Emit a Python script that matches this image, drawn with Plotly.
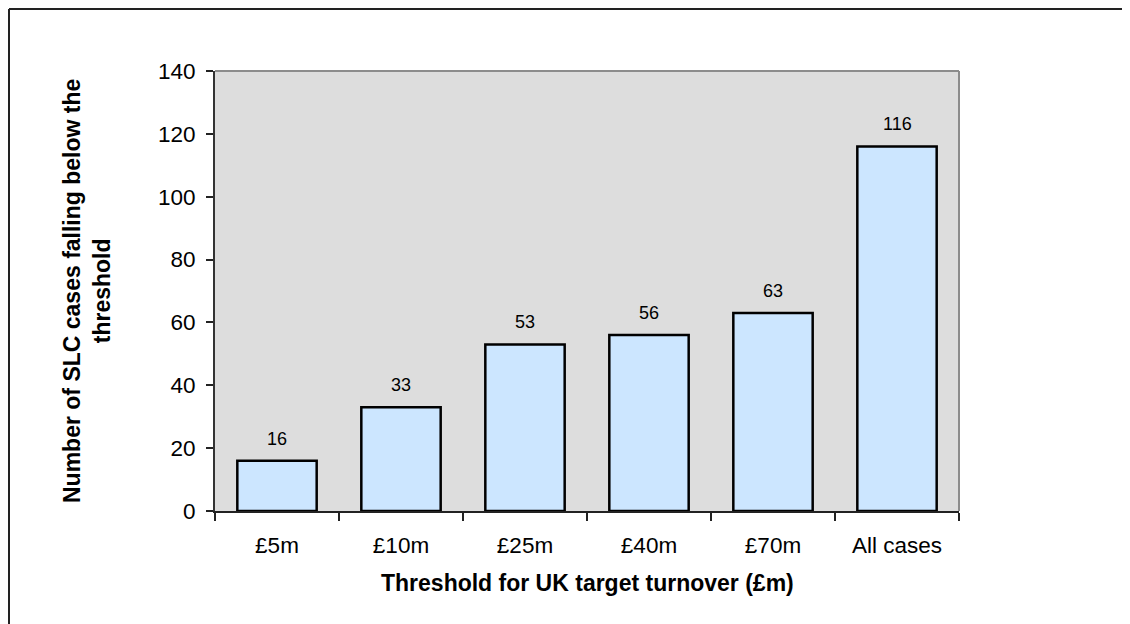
import plotly.graph_objects as go

categories = ["£5m", "£10m", "£25m", "£40m", "£70m", "All cases"]
values = [16, 33, 53, 56, 63, 116]
y_ticks = [0, 20, 40, 60, 80, 100, 120, 140]

# page body has an 8px margin; work in figure pixels = screen pixels - 8
OFF = 8
W, H = 1130, 624
L, R, T, B = 215 - OFF, 959 - OFF, 71 - OFF, 511 - OFF
pw, ph = R - L, B - T

def px_x(x):
    return (x - OFF - L) / pw

def px_y(y):
    return (B - (y - OFF)) / ph

FONT = "Liberation Sans, Arial"

fig = go.Figure()
fig.add_trace(go.Bar(
    x=categories, y=values,
    marker=dict(color="#cce6ff", line=dict(color="#000000", width=2.5)),
    hoverinfo="x+y",
))

annotations = []
for c, v in zip(categories, values):
    annotations.append(dict(
        x=c, y=v, xref="x", yref="y", text=str(v), showarrow=False,
        yanchor="bottom", yshift=10,
        font=dict(family=FONT, size=18, color="#000000"),
    ))
annotations.append(dict(
    x=px_x(87), y=0.5, xref="paper", yref="paper",
    text="<b>Number of SLC cases falling below the<br>threshold</b>",
    textangle=-90, showarrow=False, xanchor="center", yanchor="middle",
    font=dict(family=FONT, size=23, color="#000000"),
))
annotations.append(dict(
    x=0.5, y=px_y(583), xref="paper", yref="paper",
    text="<b>Threshold for UK target turnover (£m)</b>",
    showarrow=False, xanchor="center", yanchor="middle",
    font=dict(family=FONT, size=23, color="#000000"),
))

shapes = [
    # top and right plot-area borders (gray)
    dict(type="line", xref="paper", yref="paper", x0=0, x1=1, y0=1, y1=1,
         line=dict(color="#8c8c8c", width=2), layer="above"),
    dict(type="line", xref="paper", yref="paper", x0=1, x1=1, y0=0, y1=1,
         line=dict(color="#8c8c8c", width=2), layer="above"),
    # outer chart frame (left and top visible)
    dict(type="line", xref="paper", yref="paper",
         x0=px_x(9), x1=px_x(9), y0=px_y(660), y1=px_y(9),
         line=dict(color="#222222", width=2)),
    dict(type="line", xref="paper", yref="paper",
         x0=px_x(9), x1=px_x(1160), y0=px_y(9), y1=px_y(9),
         line=dict(color="#222222", width=2)),
]

fig.update_layout(
    width=W, height=H,
    margin=dict(l=L, r=W - R, t=T, b=H - B, pad=0),
    paper_bgcolor="#ffffff", plot_bgcolor="#dddddd",
    bargap=0.36, showlegend=False,
    font=dict(family=FONT, size=22, color="#000000"),
    annotations=annotations, shapes=shapes,
)
fig.update_xaxes(
    type="category", showgrid=False, showline=True, linecolor="#222222", linewidth=2,
    ticks="outside", tickson="boundaries", ticklen=8, tickcolor="#222222", tickwidth=1.5,
    ticklabelstandoff=13, tickfont=dict(size=22.5), zeroline=False,
)
fig.update_yaxes(
    range=[0, 140], tickvals=y_ticks, showgrid=False, showline=True,
    linecolor="#333333", linewidth=2, ticks="outside", ticklen=7,
    tickcolor="#222222", tickwidth=1.5, ticklabelstandoff=6,
    tickfont=dict(size=22.5), zeroline=False,
)

fig.write_html("out.html")
